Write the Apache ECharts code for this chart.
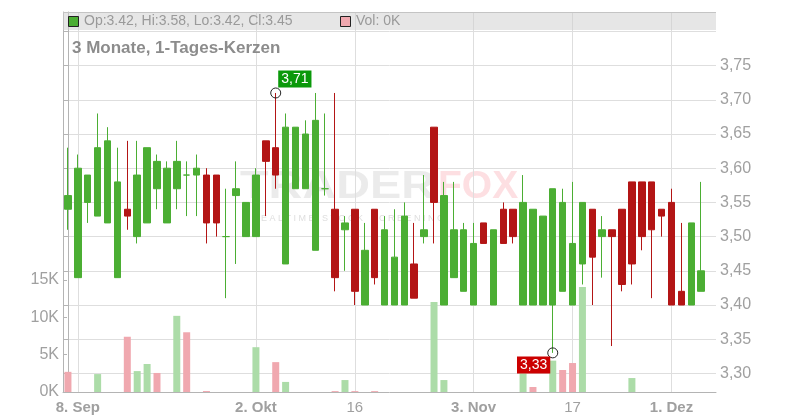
<!DOCTYPE html>
<html>
<head>
<meta charset="utf-8">
<script src="https://cdn.jsdelivr.net/npm/echarts@6/dist/echarts.min.js"></script>
<style>html,body{margin:0;padding:0;background:#fff}#c{width:800px;height:420px}</style>
</head>
<body>
<div id="c"></div>
<script>
const dates = ['2025-09-05','2025-09-08','2025-09-09','2025-09-10','2025-09-11','2025-09-12','2025-09-15','2025-09-16','2025-09-17','2025-09-18','2025-09-19','2025-09-22','2025-09-23','2025-09-24','2025-09-25','2025-09-26','2025-09-29','2025-09-30','2025-10-01','2025-10-02','2025-10-03','2025-10-06','2025-10-07','2025-10-08','2025-10-09','2025-10-10','2025-10-13','2025-10-14','2025-10-15','2025-10-16','2025-10-17','2025-10-20','2025-10-21','2025-10-22','2025-10-23','2025-10-24','2025-10-27','2025-10-28','2025-10-29','2025-10-30','2025-10-31','2025-11-03','2025-11-04','2025-11-05','2025-11-06','2025-11-07','2025-11-10','2025-11-11','2025-11-12','2025-11-13','2025-11-14','2025-11-17','2025-11-18','2025-11-19','2025-11-20','2025-11-21','2025-11-24','2025-11-25','2025-11-26','2025-11-27','2025-11-28','2025-12-01','2025-12-02','2025-12-03','2025-12-04','2025-12-05'];
const openP  = [3.54,3.44,3.55,3.53,3.52,3.44,3.54,3.50,3.52,3.57,3.52,3.57,3.59,3.59,3.59,3.59,3.50,3.56,3.50,3.50,3.64,3.63,3.46,3.57,3.57,3.48,3.57,3.54,3.51,3.54,3.40,3.54,3.40,3.40,3.40,3.46,3.50,3.66,3.40,3.44,3.42,3.40,3.52,3.40,3.54,3.54,3.40,3.40,3.40,3.40,3.42,3.40,3.46,3.54,3.50,3.51,3.54,3.58,3.58,3.58,3.54,3.55,3.42,3.40,3.42];
const closeP = [3.56,3.60,3.59,3.63,3.64,3.58,3.53,3.59,3.63,3.61,3.60,3.61,3.59,3.60,3.52,3.52,3.50,3.57,3.55,3.59,3.61,3.59,3.66,3.66,3.65,3.67,3.57,3.44,3.52,3.42,3.48,3.44,3.51,3.47,3.53,3.41,3.51,3.55,3.56,3.51,3.51,3.49,3.49,3.51,3.49,3.50,3.55,3.54,3.53,3.57,3.55,3.49,3.55,3.47,3.51,3.50,3.43,3.46,3.50,3.51,3.53,3.40,3.40,3.52,3.45];
const lowP   = [3.51,3.44,3.52,3.53,3.52,3.44,3.51,3.49,3.52,3.54,3.52,3.54,3.53,3.53,3.49,3.50,3.41,3.46,3.50,3.50,3.53,3.57,3.46,3.57,3.57,3.48,3.56,3.42,3.45,3.40,3.40,3.43,3.40,3.40,3.40,3.41,3.49,3.49,3.40,3.44,3.42,3.40,3.49,3.40,3.49,3.49,3.40,3.40,3.40,3.33,3.42,3.40,3.43,3.40,3.44,3.34,3.42,3.43,3.48,3.41,3.50,3.40,3.40,3.40,3.42];
const highP  = [3.63,3.62,3.59,3.68,3.66,3.63,3.64,3.64,3.63,3.62,3.61,3.64,3.61,3.62,3.60,3.59,3.57,3.61,3.55,3.60,3.64,3.71,3.68,3.66,3.67,3.71,3.68,3.71,3.53,3.54,3.52,3.54,3.53,3.54,3.55,3.52,3.59,3.66,3.58,3.58,3.52,3.52,3.52,3.51,3.55,3.54,3.59,3.54,3.53,3.57,3.57,3.58,3.55,3.54,3.53,3.51,3.54,3.58,3.58,3.58,3.54,3.57,3.52,3.52,3.58];
const volK   = [2.7,0,0,2.4,0,0,7.4,2.8,3.75,2.55,0,10.2,8.0,0,0.13,0,0,0,0,6.0,0,4.0,1.35,0,0,0,0,0.12,1.6,0.12,0,0.12,0,0,0,0,0,12.05,1.6,0,0,0,0,0,0,0,2.5,0.67,0,4.2,2.95,3.88,14.06,0,0,0,0,1.87,0,0,0,0,0,0,0];
const prevClose = 3.57;
const tickIdx = [1,19,29,41,51,61];
const tickLabels = ['8. Sep','2. Okt','16','3. Nov','17','1. Dez'];
const priceTicks = [3.30,3.35,3.40,3.45,3.50,3.55,3.60,3.65,3.70,3.75,3.80];
const priceLabels = [3.30,3.35,3.40,3.45,3.50,3.55,3.60,3.65,3.70,3.75];
const volTicks = [0,5000,10000,15000];
const title = '3 Monate, 1-Tages-Kerzen';

const GREEN = '#4bae33', RED = '#b31515', VGREEN = '#acdca8', VRED = '#f0a8af';
const FONT = '"Liberation Sans", Arial, sans-serif';
const n = openP.length;
const candle = dates.map((d, i) => i < n ? [openP[i], closeP[i], lowP[i], highP[i]] : '-');
const vol = dates.map((d, i) => {
  if (i >= n) return '-';
  const pc = i === 0 ? prevClose : closeP[i - 1];
  return { value: volK[i] * 1000, itemStyle: { color: closeP[i] >= pc ? VGREEN : VRED } };
});
let hiI = 0, loI = 0;
for (let i = 0; i < n; i++) { if (highP[i] > highP[hiI]) hiI = i; if (lowP[i] < lowP[loI]) loI = i; }
const fmtP = v => v.toFixed(2).replace('.', ',');
const last = n - 1;
const hdr = 'Op:' + openP[last].toFixed(2) + ', Hi:' + highP[last].toFixed(2) + ', Lo:' + lowP[last].toFixed(2) + ', Cl:' + closeP[last].toFixed(2);
const hdrVol = 'Vol: ' + Math.round(volK[last]) + 'K';

const chart = echarts.init(document.getElementById('c'), null, { renderer: 'canvas' });
chart.setOption({
  animation: false,
  textStyle: { fontFamily: FONT },
  grid: { left: 63, right: 84, top: 12, bottom: 28, containLabel: false },
  xAxis: [
    { type: 'category', data: dates, position: 'top', boundaryGap: true,
      axisLine: { show: false }, axisTick: { show: false }, axisLabel: { show: false }, splitLine: { show: false } },
    { type: 'value', position: 'bottom', min: -0.5, max: dates.length - 0.5,
      axisLine: { show: true, onZero: false, lineStyle: { color: '#b4b4b4', width: 1 } },
      axisTick: { show: false, customValues: tickIdx },
      splitLine: { show: true, lineStyle: { color: '#dedede', width: 1 } },
      axisLabel: { show: true, customValues: tickIdx, margin: 8, color: '#a0a0a0', fontSize: 15, fontFamily: FONT,
        formatter: v => { const s = tickLabels[tickIdx.indexOf(Math.round(v))] || ''; return s.indexOf('.') >= 0 ? '{b|' + s + '}' : s; },
        rich: { b: { fontWeight: 'bold', fontSize: 15, color: '#a0a0a0', fontFamily: FONT } } } }
  ],
  yAxis: [
    { type: 'value', position: 'right', min: 3.2728, max: 3.8284, scale: true,
      axisLine: { show: true, lineStyle: { color: '#b4b4b4' } },
      axisTick: { show: true, inside: true, length: 4, customValues: priceTicks, lineStyle: { color: '#b4b4b4' } },
      splitLine: { show: true, lineStyle: { color: '#dedede', width: 1 } },
      axisLabel: { customValues: priceLabels, margin: 4, color: '#a0a0a0', fontSize: 16, fontFamily: FONT, formatter: fmtP } },
    { type: 'value', position: 'left', min: 0, max: 50890,
      axisLine: { show: true, lineStyle: { color: '#b4b4b4' } },
      axisTick: { show: true, inside: true, length: 4, customValues: volTicks, lineStyle: { color: '#b4b4b4' } },
      splitLine: { show: false },
      axisLabel: { customValues: volTicks, margin: 4, color: '#a0a0a0', fontSize: 16, fontFamily: FONT, formatter: v => Math.round(v / 1000) + 'K' } }
  ],
  graphic: [
    { type: 'group', z: 1, silent: true, children: [
      { type: 'text', x: 240, y: 168, scaleX: 1.2, style: { text: 'TRADER', font: 'bold 39px ' + FONT, fill: 'rgba(200,200,200,0.36)' } },
      { type: 'text', x: 438, y: 168, style: { text: 'FOX', font: 'bold 39px ' + FONT, fill: 'rgba(250,170,178,0.38)' } },
      { type: 'text', x: 252, y: 214, style: { text: 'R E A L T I M E   S T O C K   S C R E E N I N G', font: '9px ' + FONT, fill: 'rgba(190,190,190,0.5)' } }
    ]},
    { type: 'rect', z: 50, silent: true, shape: { x: 63, y: 12, width: 653, height: 18 }, style: { fill: 'rgba(205,205,205,0.5)' } },
    { type: 'line', z: 51, silent: true, shape: { x1: 63, y1: 12.5, x2: 716, y2: 12.5 }, style: { stroke: '#c4c4c4', lineWidth: 1 } },
    { type: 'rect', z: 52, silent: true, shape: { x: 68.5, y: 16.5, width: 10, height: 10 }, style: { fill: GREEN, stroke: '#222', lineWidth: 1 } },
    { type: 'text', z: 52, silent: true, x: 84, y: 21.5, style: { text: hdr, font: '14px ' + FONT, fill: '#9a9a9a', verticalAlign: 'middle' } },
    { type: 'rect', z: 52, silent: true, shape: { x: 340.5, y: 16.5, width: 10, height: 10 }, style: { fill: VRED, stroke: '#222', lineWidth: 1 } },
    { type: 'text', z: 52, silent: true, x: 356, y: 21.5, style: { text: hdrVol, font: '14px ' + FONT, fill: '#9a9a9a', verticalAlign: 'middle' } },
    { type: 'text', z: 52, silent: true, x: 72, y: 48, style: { text: title, font: 'bold 17px ' + FONT, fill: '#8c8c8c', verticalAlign: 'middle' } }
  ],
  series: [
    { type: 'bar', xAxisIndex: 0, yAxisIndex: 1, data: vol, barWidth: 7, z: 1 },
    { type: 'candlestick', xAxisIndex: 0, yAxisIndex: 0, data: candle, barWidth: 7, z: 3,
      itemStyle: { color: GREEN, color0: RED, borderColor: GREEN, borderColor0: RED, borderColorDoji: GREEN, borderWidth: 1 },
      markPoint: {
        symbol: 'circle', symbolSize: 10,
        itemStyle: { color: 'rgba(255,255,255,0)', borderColor: '#222', borderWidth: 1 },
        data: [
          { coord: [hiI, highP[hiI]], label: { show: true, formatter: fmtP(highP[hiI]), position: [8, 0], align: 'left', verticalAlign: 'bottom',
            backgroundColor: '#0a990a', color: '#fff', fontSize: 14, fontFamily: FONT, padding: [2, 3, 1, 3] } },
          { coord: [loI, lowP[loI]], label: { show: true, formatter: fmtP(lowP[loI]), position: [3, 9], align: 'right', verticalAlign: 'top',
            backgroundColor: '#cc0000', color: '#fff', fontSize: 14, fontFamily: FONT, padding: [2, 3, 1, 3] } }
        ]
      } }
  ]
});
</script>
</body>
</html>
